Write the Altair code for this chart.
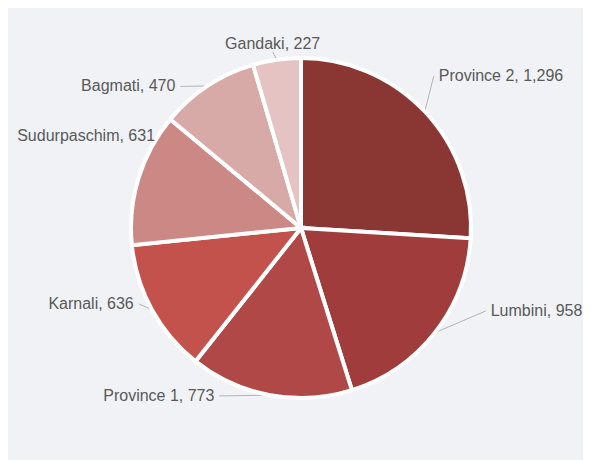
import altair as alt
import pandas as pd

# ---- data ----
REGIONS = ["Province 2", "Lumbini", "Province 1", "Karnali", "Sudurpaschim", "Bagmati", "Gandaki"]
VALUES = [1296, 958, 773, 636, 631, 470, 227]
COLORS = ["#8A3632", "#A03D3C", "#AF4846", "#C3524D", "#CC8884", "#D8AAA7", "#E4C3C2"]

# ---- label layout nudges (px offsets from the generic outside-label point) ----
LABEL_NUDGE_X = [-2, 39, -48, 0, 36, -19, -2]
LABEL_NUDGE_Y = [-25, -31, -14, -13, -38, 13, 7]

W, H = 575, 452
CX, CY = 293, 220
R = 170
RL = 185
FONT = "Liberation Sans, Arial, sans-serif"
TEXT_COLOR = "#595959"

df = pd.DataFrame({
    "region": REGIONS,
    "value": VALUES,
    "ndx": LABEL_NUDGE_X,
    "ndy": LABEL_NUDGE_Y,
})

base = alt.Chart(df)

pie = base.mark_arc(outerRadius=R, stroke="white", strokeWidth=4).encode(
    theta=alt.Theta("value:Q", stack=True),
    color=alt.Color("region:N", scale=alt.Scale(domain=REGIONS, range=COLORS), legend=None),
    order=alt.Order("value:Q", sort="descending"),
    x=alt.value(CX),
    y=alt.value(CY),
)

geo = (
    base.transform_window(cum="sum(value)", sort=[alt.SortField("value", order="descending")])
    .transform_joinaggregate(total="sum(value)")
    .transform_calculate(mid="(datum.cum - datum.value / 2) / datum.total * 2 * PI")
    .transform_calculate(
        ex=f"{CX} + {R} * sin(datum.mid)",
        ey=f"{CY} - {R} * cos(datum.mid)",
        lx=f"{CX} + {RL} * sin(datum.mid) + datum.ndx",
        ly=f"{CY} - {RL} * cos(datum.mid) + datum.ndy",
        side="abs(sin(datum.mid)) < 0.15 ? 'c' : (sin(datum.mid) > 0 ? 'r' : 'l')",
        label="datum.region + ', ' + format(datum.value, ',')",
    )
)

connectors = geo.mark_rule(color="#b3b3b3", strokeWidth=1).encode(
    x=alt.X("ex:Q", scale=None, axis=None),
    y=alt.Y("ey:Q", scale=None, axis=None),
    x2="lx:Q",
    y2="ly:Q",
)

def text_layer(side, align, baseline, dx):
    return geo.transform_filter(f"datum.side == '{side}'").mark_text(
        align=align, baseline=baseline, dx=dx, font=FONT, fontSize=16, color=TEXT_COLOR
    ).encode(
        x=alt.X("lx:Q", scale=None, axis=None),
        y=alt.Y("ly:Q", scale=None, axis=None),
        text="label:N",
    )

chart = alt.layer(
    connectors,
    pie,
    text_layer("r", "left", "middle", 5),
    text_layer("l", "right", "middle", -5),
    text_layer("c", "center", "bottom", 0),
).properties(
    width=W, height=H, background="#F0F2F6", padding=0, autosize="none"
).configure_view(stroke=None)

chart.save("out.html", embed_options={"renderer": "svg", "actions": False})
